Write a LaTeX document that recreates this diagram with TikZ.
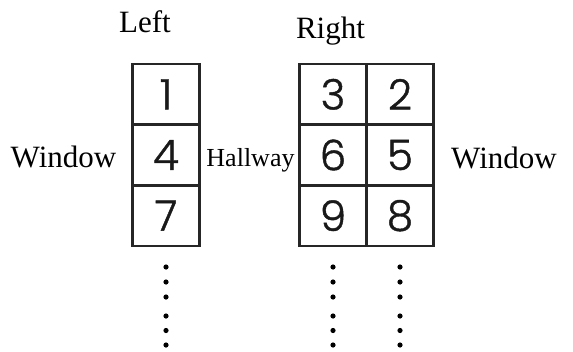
\documentclass[tikz,border=0pt]{standalone}
\usepackage{fontspec}
\setmainfont{Liberation Serif}
\newfontfamily\digitfont[FakeBold=1]{Poppins Light}
\begin{document}
\begin{tikzpicture}[x=1pt,y=-1pt,
  cell/.style={draw=black!85, line width=2.6pt, minimum width=67pt,
    minimum height=60.67pt, inner sep=0pt, outer sep=0pt,
    font=\digitfont\fontsize{42}{42}\selectfont, text=black!90},
  label/.style={anchor=base, inner sep=0pt, font=\fontsize{31}{34}\selectfont},
  small/.style={anchor=base, inner sep=0pt, font=\fontsize{26}{30}\selectfont},
  vdot/.style={circle, fill=black, inner sep=0pt, minimum size=5.2pt}]
\useasboundingbox (0,0) rectangle (573,351);

% headings
\node[label] (left)  at (145,32)  {Left};
\node[label] (right) at (330.5,38) {Right};

% left block of rooms
\node[cell] (c1) at (166,94.33)  {1};
\node[cell] (c4) at (166,155)    {4};
\node[cell] (c7) at (166,215.67) {7};

% right block of rooms
\node[cell] (c3) at (333,94.33)  {3};
\node[cell] (c2) at (400,94.33)  {2};
\node[cell] (c6) at (333,155)    {6};
\node[cell] (c5) at (400,155)    {5};
\node[cell] (c9) at (333,215.67) {9};
\node[cell] (c8) at (400,215.67) {8};

% side labels
\node[label] (winl) at (63.5,167) {Window};
\node[small] (hall) at (250.5,166) {Hallway};
\node[label] (winr) at (504,168) {Window};

% continuation dots
\foreach \col/\x in {a/166,b/333,c/400}{
  \foreach \i/\y in {1/267,2/282,3/297,4/316,5/330.5,6/345}{
    \node[vdot] (d\col\i) at (\x,\y) {};
  }
}
\end{tikzpicture}
\end{document}
